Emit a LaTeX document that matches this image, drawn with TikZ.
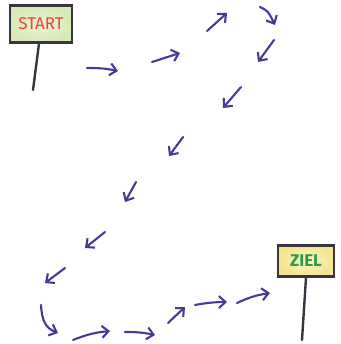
\documentclass[tikz,border=0pt]{standalone}
\usepackage{fontspec}
\setmainfont{Fira Sans}
\usetikzlibrary{arrows.meta}
\definecolor{pathink}{HTML}{4A3796}
\definecolor{signframe}{HTML}{3A3342}
\definecolor{startfill}{HTML}{D6EBB4}
\definecolor{startcore}{HTML}{F1EFD6}
\definecolor{startink}{HTML}{E8483A}
\definecolor{zielfill}{HTML}{F5E48E}
\definecolor{zielcore}{HTML}{FBF4C8}
\definecolor{zielink}{HTML}{2E9A4A}
\tikzset{
  hop/.style={draw=pathink, line width=2.1pt, line cap=round, line join=round,
    -{Straight Barb[length=6.5pt, width=12pt, line width=2.1pt]}},
  board/.style={draw=signframe, line width=2.2pt, inner sep=0pt},
  pole/.style={draw=signframe, line width=2.4pt, line cap=round},
}
\begin{document}
\begin{tikzpicture}[x=1pt, y=-1pt]
  \useasboundingbox (0,0) rectangle (340,344);
  % signposts
  \node[board, minimum width=62pt, minimum height=37pt,
        inner color=startcore, outer color=startfill, text=startink,
        font=\fontsize{17}{17}\selectfont] (start) at (41,24) {START};
  \coordinate (startfoot) at (33,90);
  \draw[pole] (start.south) ++(-2,0) -- (startfoot);
  \node[board, minimum width=56pt, minimum height=31pt,
        inner color=zielcore, outer color=zielfill, text=zielink,
        font=\bfseries\fontsize{17}{17}\selectfont] (ziel) at (306,261) {ZIEL};
  \coordinate (zielfoot) at (302,340);
  \draw[pole] (ziel.south) -- (zielfoot);
  % stepping points of the winding path
  \foreach \n/\x/\y in {
      a/87/68, A/118/71, b/152/62, B/180/53, c/207/31, C/227/13,
      d/260/7, D/275/25, e/274/40, E/258/62, f/241/87, F/223/108,
      g/183/137, G/169/156, h/136/182, H/125/202, i/105/232, I/85/248,
      j/65/268, J/45/283, k/41/305, K/58/333, l/73/340, L/110/331,
      m/125/332, M/155/335, n/168/323, N/185/307, o/195/305, O/227/302,
      p/237/303, P/270/293}
    \coordinate (\n) at (\x,\y);
  % arrows
  \draw[hop] (a) to[bend left=6] (A);
  \draw[hop] (b) -- (B);
  \draw[hop] (c) -- (C);
  \draw[hop] (d) .. controls (268,11) .. (D);
  \draw[hop] (e) -- (E);
  \draw[hop] (f) -- (F);
  \draw[hop] (g) -- (G);
  \draw[hop] (h) -- (H);
  \draw[hop] (i) -- (I);
  \draw[hop] (j) -- (J);
  \draw[hop] (k) .. controls (42,322) and (46,328) .. (K);
  \draw[hop] (l) to[bend left=8] (L);
  \draw[hop] (m) to[bend left=6] (M);
  \draw[hop] (n) -- (N);
  \draw[hop] (o) to[bend left=5] (O);
  \draw[hop] (p) to[bend left=8] (P);
\end{tikzpicture}
\end{document}
